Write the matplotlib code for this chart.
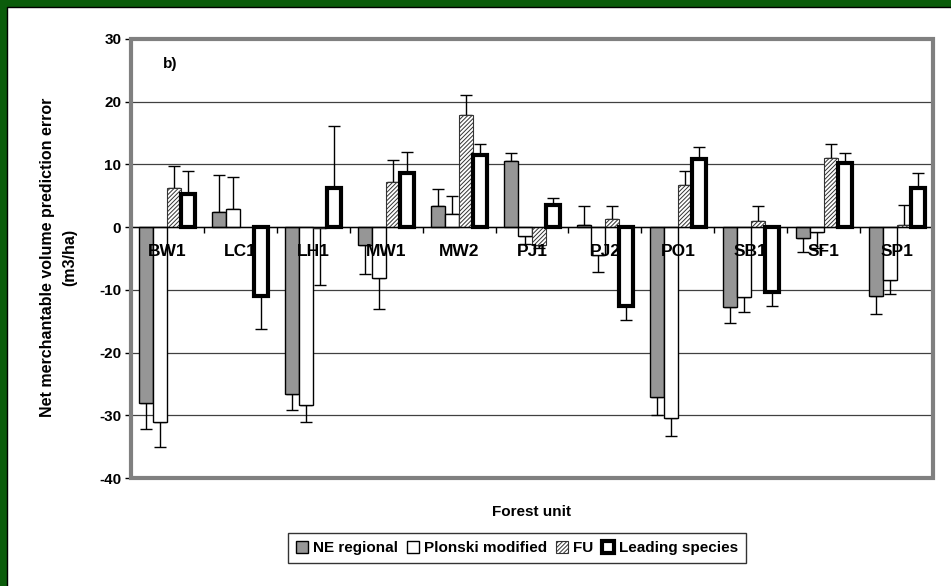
import numpy as np
import matplotlib
matplotlib.use("Agg")
import matplotlib.pyplot as plt
from matplotlib.patches import Patch, Rectangle

plt.rcParams['font.family'] = ['Liberation Sans', 'DejaVu Sans']
plt.rcParams['font.weight'] = 'bold'
plt.rcParams['axes.unicode_minus'] = False
plt.rcParams['hatch.linewidth'] = 0.7

# forest units and mean prediction errors (m3/ha) with one-sided error bars
units = ['BW1', 'LC1', 'LH1', 'MW1', 'MW2', 'PJ1', 'PJ2', 'PO1', 'SB1', 'SF1', 'SP1']
ne_regional = [-28.0, 2.4, -26.6, -2.8, 3.3, 10.5, 0.3, -27.1, -12.7, -1.7, -11.0]
ne_err = [4.2, 5.9, 2.6, 4.6, 2.8, 1.3, 3.0, 2.9, 2.6, 2.3, 2.8]
plonski = [-31.1, 2.9, -28.4, -8.1, 2.1, -1.4, -4.5, -30.5, -11.2, -0.8, -8.4]
plonski_err = [3.9, 5.1, 2.6, 4.9, 2.8, 1.3, 2.6, 2.8, 2.3, 2.5, 2.3]
fu = [6.2, np.nan, -0.2, 7.2, 17.9, -2.9, 1.3, 6.7, 1.0, 11.1, 0.3]
fu_err = [3.6, np.nan, 9.0, 3.5, 3.2, 0.4, 2.0, 2.3, 2.3, 2.2, 3.3]
leading = [5.3, -11.0, 6.3, 8.6, 11.5, 3.5, -12.6, 10.8, -10.4, 10.2, 6.3]
leading_err = [3.7, 5.3, 9.8, 3.4, 1.8, 1.1, 2.2, 2.0, 2.1, 1.6, 2.4]

series = [
    ('NE regional', ne_regional, ne_err, dict(facecolor='#969696', edgecolor='black', linewidth=1.0)),
    ('Plonski modified', plonski, plonski_err, dict(facecolor='white', edgecolor='black', linewidth=1.0)),
    ('FU', fu, fu_err, dict(facecolor='white', edgecolor='#333333', linewidth=0.8, hatch='////////')),
    ('Leading species', leading, leading_err, dict(facecolor='white', edgecolor='black', linewidth=3.0)),
]

fig = plt.figure(figsize=(9.51, 5.86), dpi=100)
fig.patch.set_facecolor('white')
# green slide edges on the left and top, with a dark rim around the panel
fig.patches.append(Rectangle((0, 0), 7 / 951, 1, transform=fig.transFigure,
                             facecolor='#0b5c0b', edgecolor='none', zorder=0))
fig.patches.append(Rectangle((0, 1 - 7 / 586), 1, 7 / 586, transform=fig.transFigure,
                             facecolor='#0b5c0b', edgecolor='none', zorder=0))
fig.lines.append(plt.Line2D([7 / 951, 7 / 951, 1], [0, 1 - 7 / 586, 1 - 7 / 586],
                            transform=fig.transFigure, color='black', linewidth=1.0))

ax = fig.add_axes([131 / 951, 1 - 478 / 586, 802 / 951, 439 / 586])
ax.set_facecolor('white')

x = np.arange(len(units)) + 0.5
w = 0.192
offsets = np.array([-1.5, -0.5, 0.5, 1.5]) * w

for (name, vals, errs, style), off in zip(series, offsets):
    vals = np.array(vals, dtype=float)
    errs = np.array(errs, dtype=float)
    ax.bar(x + off, vals, width=w, zorder=3, **style)
    # error bars only on the side away from zero
    lower = np.where(vals < 0, errs, 0)
    upper = np.where(vals >= 0, errs, 0)
    ax.errorbar(x + off, vals, yerr=[lower, upper], fmt='none', ecolor='black',
                elinewidth=1.0, capsize=4.5, capthick=1.0, zorder=2)

ax.set_xlim(0, len(units))
ax.set_ylim(-40, 30)
ax.set_yticks(np.arange(-40, 31, 10))
ax.yaxis.grid(True, color='#404040', linewidth=0.9)
ax.set_axisbelow(True)
ax.tick_params(axis='y', direction='out', length=4, width=1, labelsize=11, pad=3)

# category axis sits on the zero line, its labels drawn over the bars
ax.spines['bottom'].set_position(('data', 0))
ax.spines['bottom'].set_color('black')
ax.spines['bottom'].set_linewidth(1.0)
ax.spines['bottom'].set_zorder(4)
ax.xaxis.set_zorder(4)
ax.set_xticks(x)
ax.set_xticklabels(units, fontsize=12.5, fontweight='bold')
ax.tick_params(axis='x', which='major', length=0, pad=12)
ax.set_xticks(np.arange(1, len(units)), minor=True)
ax.tick_params(axis='x', which='minor', direction='out', length=4, width=1)

for s in ['top', 'right', 'left']:
    ax.spines[s].set_visible(False)
ax.add_patch(Rectangle((0, 0), 1, 1, transform=ax.transAxes, fill=False,
                       edgecolor='#808080', linewidth=3.0, clip_on=False, zorder=5))

ax.text(0.04, 0.935, 'b)', transform=ax.transAxes, fontsize=11, fontweight='bold')

fig.text(59 / 951, 1 - 257 / 586, 'Net merchantable volume prediction error\n(m3/ha)',
         rotation=90, ha='center', va='center', fontsize=11.5, fontweight='bold',
         linespacing=1.6)
fig.text(532 / 951, 1 - 512 / 586, 'Forest unit', ha='center', va='center',
         fontsize=11, fontweight='bold')

handles = [Patch(label=name, **style) for name, _, _, style in series]
leg = fig.legend(handles=handles, loc='center', bbox_to_anchor=(517 / 951, 1 - 548 / 586),
                 ncol=4, fontsize=11, frameon=True, fancybox=False, handlelength=0.8,
                 handleheight=0.8, handletextpad=0.3, columnspacing=0.6, borderpad=0.5)
leg.get_frame().set_edgecolor('black')
leg.get_frame().set_linewidth(1.0)
for t in leg.get_texts():
    t.set_fontweight('bold')

fig.savefig('out.png', dpi=100, facecolor=fig.get_facecolor())
